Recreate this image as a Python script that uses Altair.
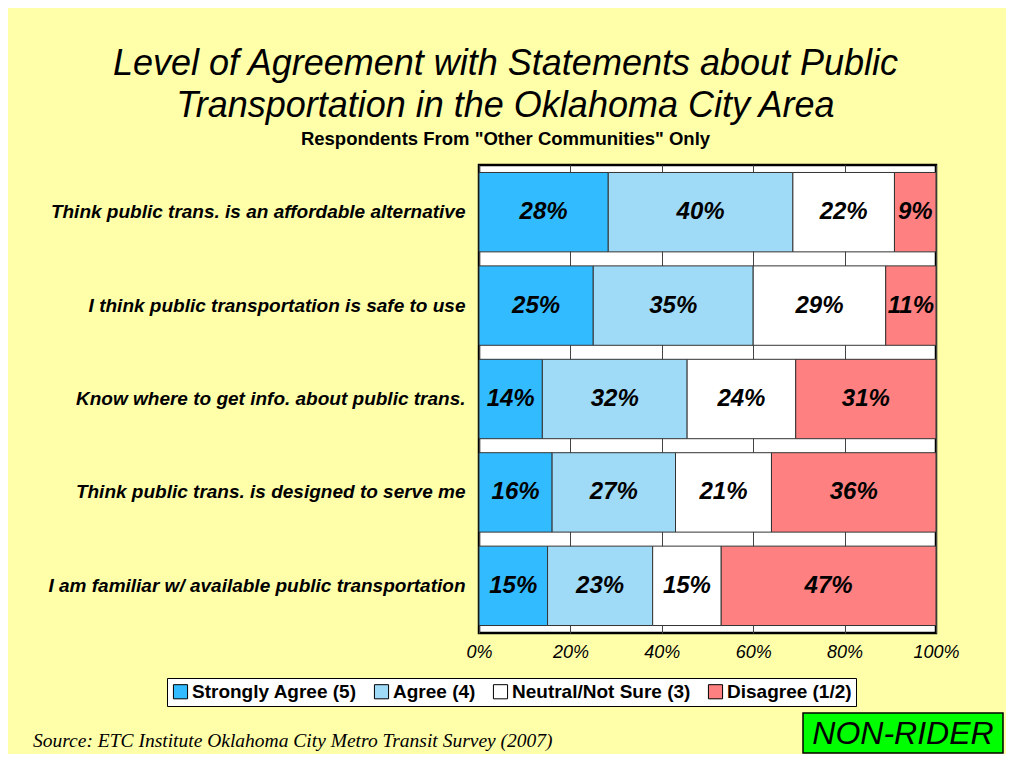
import altair as alt
import pandas as pd

statements = [
    "Think public trans. is an affordable alternative",
    "I think public transportation is safe to use",
    "Know where to get info. about public trans.",
    "Think public trans. is designed to serve me",
    "I am familiar w/ available public transportation",
]
categories = ["Strongly Agree (5)", "Agree (4)", "Neutral/Not Sure (3)", "Disagree (1/2)"]
strongly_agree = [28, 25, 14, 16, 15]
agree = [40, 35, 32, 27, 23]
neutral = [22, 29, 24, 21, 15]
disagree = [9, 11, 31, 36, 47]
x_ticks = [0, 0.2, 0.4, 0.6, 0.8, 1.0]
source_text = ["Source:  ETC Institute Oklahoma City Metro Transit Survey (2007)"]
badge_text = ["NON-RIDER"]

colors = ["#33BBFF", "#9FDAF7", "#FFFFFF", "#FF8080"]
SANS = "Liberation Sans Narrow, Arial Narrow, Liberation Sans, Arial, sans-serif"

series = [strongly_agree, agree, neutral, disagree]
rows = []
for i, s in enumerate(statements):
    for j, c in enumerate(categories):
        rows.append({"statement": s, "category": c, "order": j, "value": series[j][i]})
df = pd.DataFrame(rows)

base = alt.Chart(df).transform_stack(
    stack="value",
    as_=["v0", "v1"],
    groupby=["statement"],
    offset="normalize",
    sort=[alt.SortField("order", order="ascending")],
).transform_calculate(
    mid="(datum.v0 + datum.v1) / 2",
    label="datum.value + '%'",
)

y_enc = alt.Y(
    "statement:N",
    sort=statements,
    scale=alt.Scale(paddingInner=0.15, paddingOuter=0.08),
    axis=alt.Axis(
        title=None,
        labelFont="Liberation Sans",
        labelFontSize=19,
        labelFontWeight="bold",
        labelFontStyle="italic",
        labelColor="black",
        labelLimit=600,
        labelPadding=14,
        ticks=False,
        domain=False,
    ),
)

bars = base.mark_bar(stroke="#333333", strokeWidth=1).encode(
    x=alt.X(
        "v0:Q",
        scale=alt.Scale(domain=[0, 1], nice=False),
        axis=alt.Axis(
            title=None,
            format="%",
            values=x_ticks,
            grid=True,
            gridColor="#444444",
            gridWidth=1,
            ticks=False,
            domain=False,
            labelFlush=False,
            labelFont="Liberation Sans",
            labelFontSize=18,
            labelFontStyle="italic",
            labelColor="black",
            labelPadding=10,
        ),
    ),
    x2="v1:Q",
    y=y_enc,
    color=alt.Color(
        "category:N",
        sort=categories,
        scale=alt.Scale(domain=categories, range=colors),
        legend=alt.Legend(
            title=None,
            orient="none",
            legendX=-312,
            legendY=513,
            direction="horizontal",
            columns=4,
            symbolType="square",
            symbolSize=200,
            symbolStrokeColor="black",
            symbolStrokeWidth=1,
            symbolOpacity=1,
            labelFont="Liberation Sans",
            labelFontSize=19,
            labelFontWeight="bold",
            labelColor="black",
            labelOffset=2,
            labelLimit=300,
            columnPadding=15,
            padding=4,
            fillColor="white",
            strokeColor="black",
        ),
    ),
)

text = base.mark_text(
    font="Liberation Sans",
    fontSize=24,
    fontWeight="bold",
    fontStyle="italic",
    color="black",
).encode(
    x="mid:Q",
    y=y_enc,
    text="label:N",
)

badge_df = pd.DataFrame({"t": badge_text})
badge_box = alt.Chart(badge_df).mark_rect(fill="#00FF00", stroke="black", strokeWidth=1.5).encode(
    x=alt.value(324), x2=alt.value(524), y=alt.value(548), y2=alt.value(588)
)
badge = alt.Chart(badge_df).mark_text(
    font=SANS,
    fontStyle="italic",
    fontSize=32,
    align="center",
    baseline="middle",
    color="black",
).encode(x=alt.value(424), y=alt.value(569), text="t:N")

source = alt.Chart(pd.DataFrame({"t": source_text})).mark_text(
    font="Liberation Serif",
    fontStyle="italic",
    fontSize=19.5,
    align="left",
    baseline="middle",
    color="black",
).encode(x=alt.value(-446), y=alt.value(576), text="t:N")

chart = alt.layer(bars, text, badge_box, badge, source).properties(
    width=457,
    height=468,
    autosize=alt.AutoSizeParams(type="none"),
    padding={"left": 471, "top": 157, "right": 70, "bottom": 121},
    background="#FFFFAA",
    title=alt.TitleParams(
        text=[
            "Level of Agreement with Statements about Public",
            "Transportation in the Oklahoma City Area",
        ],
        subtitle='Respondents From "Other Communities" Only',
        font=SANS,
        fontSize=36,
        fontStyle="italic",
        fontWeight="normal",
        color="black",
        lineHeight=42,
        subtitleFont="Liberation Sans",
        subtitleFontSize=18.5,
        subtitleFontWeight="bold",
        subtitleColor="black",
        subtitlePadding=5,
        anchor="middle",
        dx=-202,
        offset=16,
    ),
).configure_view(stroke="black", strokeWidth=2.5, fill="white")

chart.save("out.html", embed_options={"renderer": "svg", "actions": False})
